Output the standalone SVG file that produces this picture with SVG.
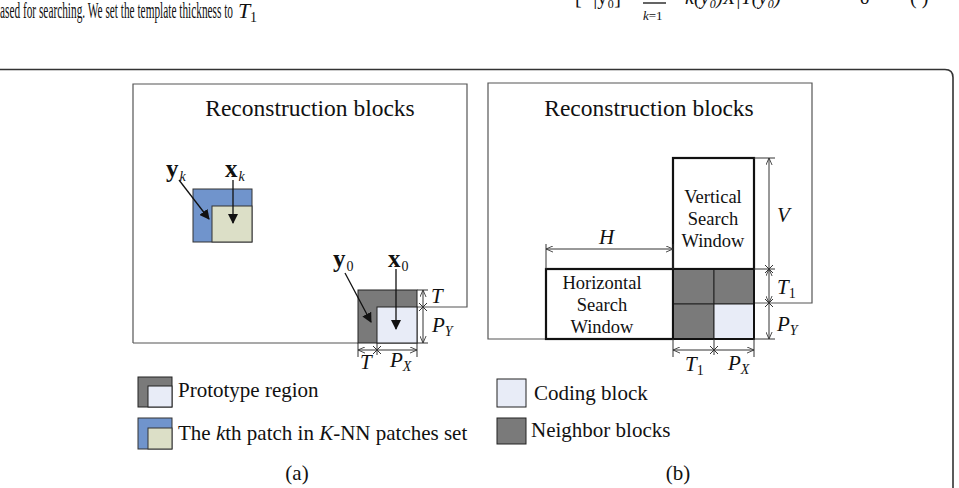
<svg xmlns="http://www.w3.org/2000/svg" width="959" height="488" viewBox="0 0 959 488">
  <style>
    text { font-family: "Liberation Serif", "Times New Roman", serif; fill: #111; }
    .title { font-size: 23.5px; text-anchor: middle; }
    .win { font-size: 18.5px; text-anchor: middle; }
    .leg { font-size: 21px; }
    .it { font-style: italic; }
    .bold { font-weight: bold; }
    .sym { font-size: 21px; font-style: italic; }
    .sub { font-size: 14px; }
    .vec { font-size: 25px; font-weight: bold; }
    .area { fill: none; stroke: #555; stroke-width: 1.2; }
    .winbox { fill: #fff; stroke: #111; stroke-width: 2.2; }
    .gray { fill: #7a7a7a; stroke: #222; stroke-width: 1; }
    .light { fill: #e8ecf7; stroke: #222; stroke-width: 1; }
    .blue { fill: #7094cc; stroke: #333; stroke-width: 1; }
    .green { fill: #dcdfc7; stroke: #333; stroke-width: 1; }
    .dim { fill: none; stroke: #333; stroke-width: 1; }
    .ptr { fill: none; stroke: #111; stroke-width: 1.3; }
  </style>
  <defs>
    <marker id="open" viewBox="0 0 8 8" refX="8" refY="4" markerWidth="7" markerHeight="7" orient="auto-start-reverse" markerUnits="userSpaceOnUse">
      <path d="M0,0.5 L8,4 L0,7.5" fill="none" stroke="#333" stroke-width="1"/>
    </marker>
    <marker id="solid" viewBox="0 0 10 10" refX="9" refY="5" markerWidth="10" markerHeight="10" orient="auto" markerUnits="userSpaceOnUse">
      <path d="M0,0 L10,5 L0,10 Z" fill="#111"/>
    </marker>
    <path id="xtick" d="M-4,-4 L4,4 M-4,4 L4,-4" fill="none" stroke="#333" stroke-width="1"/>
  </defs>

  <!-- running text above the figure -->
  <text x="0" y="18" font-size="23" textLength="233" lengthAdjust="spacingAndGlyphs">ased for searching. We set the template thickness to</text>
  <text x="238" y="18" font-size="22" class="it">T</text>
  <text x="250" y="22" font-size="14">1</text>
  <text x="643" y="20" font-size="13" class="it">k<tspan font-style="normal">=1</tspan></text>
  <path d="M643,3 L666,3" stroke="#222" stroke-width="1.4"/>
  <text x="860" y="4" font-size="20">δ</text>
  <text x="575" y="4" font-size="20">[ ·|y₀]</text>
  <text x="685" y="4" font-size="20" class="it">k(y₀)X|Y(y₀)</text>
  <text x="910" y="4" font-size="20">(   )</text>

  <!-- figure frame -->
  <path d="M0,69.5 H945 Q953,69.5 953,77.5 V488" fill="none" stroke="#333" stroke-width="1.6"/>

  <!-- ===== panel (a) ===== -->
  <g id="panel-a">
    <path class="area" d="M133,343 V84 H467 V307 H377"/>
    <path class="area" d="M133,343 H358"/>
    <text class="title" x="310" y="116">Reconstruction blocks</text>
  </g>

  <g id="patch-k">
    <rect class="blue" x="193" y="189" width="59" height="53"/>
    <rect class="green" x="212" y="206" width="40" height="36"/>
    <text class="vec" x="166" y="177">y<tspan class="sub it" font-weight="normal" dx="1" dy="4">k</tspan></text>
    <text class="vec" x="225" y="177">x<tspan class="sub it" font-weight="normal" dx="1" dy="4">k</tspan></text>
  </g>

  <g id="prototype">
    <rect class="gray" x="358" y="290" width="59" height="53"/>
    <rect class="light" x="377" y="307" width="40" height="36"/>
    <text class="vec" x="333" y="267">y<tspan class="sub" font-weight="normal" dx="1" dy="4">0</tspan></text>
    <text class="vec" x="388" y="267">x<tspan class="sub" font-weight="normal" dx="1" dy="4">0</tspan></text>
  </g>

  <g id="dims-a">
    <path class="dim" d="M417,290 H428 M417,343 H428 M358,343 V357 M417,343 V357 M377,343 V355"/>
    <path class="dim" d="M423,307 V290" marker-end="url(#open)"/>
    <path class="dim" d="M423,307 V343" marker-end="url(#open)"/>
    <path class="dim" d="M377,350 H358" marker-end="url(#open)"/>
    <path class="dim" d="M377,350 H417" marker-end="url(#open)"/>
    <use href="#xtick" x="423" y="307"/>
    <use href="#xtick" x="377" y="350"/>
    <text class="sym" x="431" y="303">T</text>
    <text class="sym" x="432" y="332">P<tspan class="sub" dy="4">Y</tspan></text>
    <text class="sym" x="360" y="369">T</text>
    <text class="sym" x="390" y="367">P<tspan class="sub" dy="4">X</tspan></text>
  </g>

  <!-- ===== panel (b) ===== -->
  <g id="panel-b">
    <path class="area" d="M546,339 H488 V83 H812 V303 H754"/>
    <text class="title" x="649" y="116">Reconstruction blocks</text>
  </g>

  <g id="vertical-window">
    <rect class="winbox" x="673" y="158" width="81" height="111"/>
    <text class="win" x="713" y="203">Vertical</text>
    <text class="win" x="713" y="225">Search</text>
    <text class="win" x="713" y="247">Window</text>
  </g>

  <g id="horizontal-window">
    <rect class="winbox" x="546" y="269" width="127" height="70"/>
    <text class="win" x="602" y="289">Horizontal</text>
    <text class="win" x="602" y="311">Search</text>
    <text class="win" x="602" y="333">Window</text>
  </g>

  <g id="blocks">
    <rect class="gray" x="673" y="269" width="41" height="35"/>
    <rect class="gray" x="714" y="269" width="40" height="35"/>
    <rect class="gray" x="673" y="304" width="41" height="35"/>
    <rect class="light" x="714" y="304" width="40" height="35"/>
    <rect x="673" y="269" width="81" height="70" fill="none" stroke="#111" stroke-width="2"/>
  </g>

  <g id="dims-b">
    <!-- extension lines -->
    <path class="dim" d="M546,269 V244 M673,269 V244 M754,158 H775 M754,269 H775 M754,339 H775 M673,339 V357 M714,339 V355 M754,339 V357"/>
    <path class="dim" d="M546,249 H673" marker-start="url(#open)" marker-end="url(#open)"/>
    <path class="dim" d="M769,269 V158" marker-end="url(#open)"/>
    <path class="dim" d="M769,269 V303" marker-start="url(#open)" marker-end="url(#open)"/>
    <path class="dim" d="M769,303 V339" marker-end="url(#open)"/>
    <path class="dim" d="M714,350 H673" marker-end="url(#open)"/>
    <path class="dim" d="M714,350 H754" marker-end="url(#open)"/>
    <use href="#xtick" x="769" y="269"/>
    <use href="#xtick" x="769" y="303"/>
    <use href="#xtick" x="714" y="350"/>
    <text class="sym" x="599" y="244">H</text>
    <text class="sym" x="777" y="222">V</text>
    <text class="sym" x="777" y="294">T<tspan class="sub" font-style="normal" dy="4">1</tspan></text>
    <text class="sym" x="777" y="331">P<tspan class="sub" dy="4">Y</tspan></text>
    <text class="sym" x="685" y="371">T<tspan class="sub" font-style="normal" dy="4">1</tspan></text>
    <text class="sym" x="728" y="370">P<tspan class="sub" dy="4">X</tspan></text>
  </g>

  <!-- connectors: pointer arrows from vector labels -->
  <g id="connectors">
    <path class="ptr" d="M179,180 L209,219" marker-end="url(#solid)"/>
    <path class="ptr" d="M233,180 V223" marker-end="url(#solid)"/>
    <path class="ptr" d="M345,273 L371,322" marker-end="url(#solid)"/>
    <path class="ptr" d="M396,269 V329" marker-end="url(#solid)"/>
  </g>

  <!-- ===== legends ===== -->
  <g id="legend-a">
    <rect class="gray" x="138" y="377" width="34" height="30"/>
    <rect class="light" x="148" y="386" width="24" height="21"/>
    <text class="leg" x="178" y="397">Prototype region</text>
    <rect class="blue" x="138" y="418" width="34" height="31"/>
    <rect class="green" x="148" y="428" width="24" height="21"/>
    <text class="leg" x="178" y="440">The <tspan class="it">k</tspan>th patch in <tspan class="it">K</tspan>-NN patches set</text>
    <text class="leg" x="297" y="480" text-anchor="middle">(a)</text>
  </g>

  <g id="legend-b">
    <rect class="light" x="497" y="379" width="29" height="28"/>
    <text class="leg" x="534" y="400">Coding block</text>
    <rect class="gray" x="497" y="418" width="29" height="26"/>
    <text class="leg" x="531" y="437">Neighbor blocks</text>
    <text class="leg" x="678" y="480" text-anchor="middle">(b)</text>
  </g>
</svg>
